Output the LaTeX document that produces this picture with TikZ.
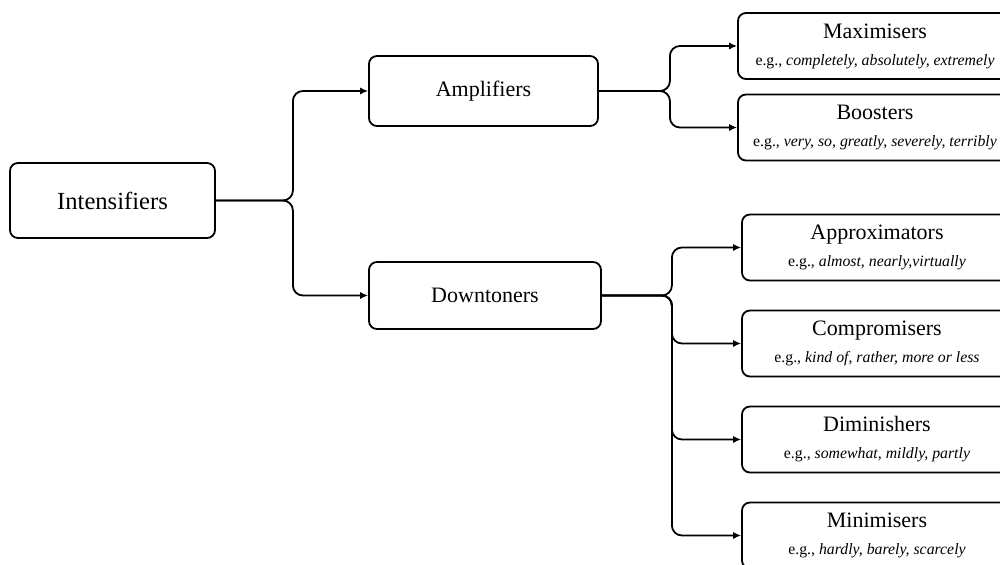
\documentclass[tikz,border=0pt]{standalone}
\usepackage{fontspec}
\setmainfont{Liberation Serif}
\usepackage{tikz}
\usetikzlibrary{arrows.meta, positioning}
\tikzset{
  topbox/.style={
    draw, rectangle, rounded corners=4pt, line width=0.9pt,
    align=center, font=\fontsize{12.3pt}{14pt}\selectfont
  },
  catbox/.style={
    draw, rectangle, rounded corners=4pt, line width=0.9pt,
    minimum height=34pt, align=center, font=\fontsize{11pt}{13pt}\selectfont
  },
  subbox/.style={
    draw, rectangle, rounded corners=4pt, line width=0.9pt,
    minimum height=33pt, align=center, inner sep=2pt,
    font=\fontsize{11pt}{12.5pt}\selectfont
  },
  arrow/.style={
    -{Latex[length=4pt,width=3.6pt]}, line width=0.9pt, rounded corners=5pt
  }
}
\newcommand{\eg}[1]{{\fontsize{7.9pt}{9pt}\selectfont e.g., \textit{#1}}}

\begin{document}
\begin{tikzpicture}[x=0.5pt, y=-0.5pt]
  \clip (0,0) rectangle (1000,565);
  % main categories
  \node[topbox, minimum width=102.5pt, minimum height=37.5pt] (intens) at (112.5,200.5) {Intensifiers};
  \node[catbox, minimum width=114.5pt, minimum height=35pt] (ampl) at (483.5,91) {Amplifiers};
  \node[catbox, minimum width=116pt, minimum height=33.5pt] (down) at (485,295.5) {Downtoners};

  % subcategories
  \node[subbox, minimum width=137pt] (maxim) at (875,46) {Maximisers\\[1pt]\eg{completely, absolutely, extremely}};
  \node[subbox, minimum width=137pt] (boost) at (875,127.5) {Boosters\\[1pt]\eg{very, so, greatly, severely, terribly}};
  \node[subbox, minimum width=135pt] (approx) at (877,247.5) {Approximators\\[1pt]\eg{almost, nearly,virtually}};
  \node[subbox, minimum width=135pt] (compr) at (877,343.5) {Compromisers\\[1pt]\eg{kind of, rather, more or less}};
  \node[subbox, minimum width=135pt] (dimin) at (877,439.5) {Diminishers\\[1pt]\eg{somewhat, mildly, partly}};
  \node[subbox, minimum width=135pt] (minim) at (877,535.5) {Minimisers\\[1pt]\eg{hardly, barely, scarcely}};

  % connectors
  \draw[arrow] (intens.east) -- ++(77,0) |- (ampl.west);
  \draw[arrow] (intens.east) -- ++(77,0) |- (down.west);
  \draw[arrow] (ampl.east) -- ++(71,0) |- (maxim.west);
  \draw[arrow] (ampl.east) -- ++(71,0) |- (boost.west);
  \draw[arrow] (down.east) -- ++(70,0) |- (approx.west);
  \draw[arrow] (down.east) -- ++(70,0) |- (compr.west);
  \draw[arrow] (down.east) -- ++(70,0) |- (dimin.west);
  \draw[arrow] (down.east) -- ++(70,0) |- (minim.west);
\end{tikzpicture}
\end{document}
